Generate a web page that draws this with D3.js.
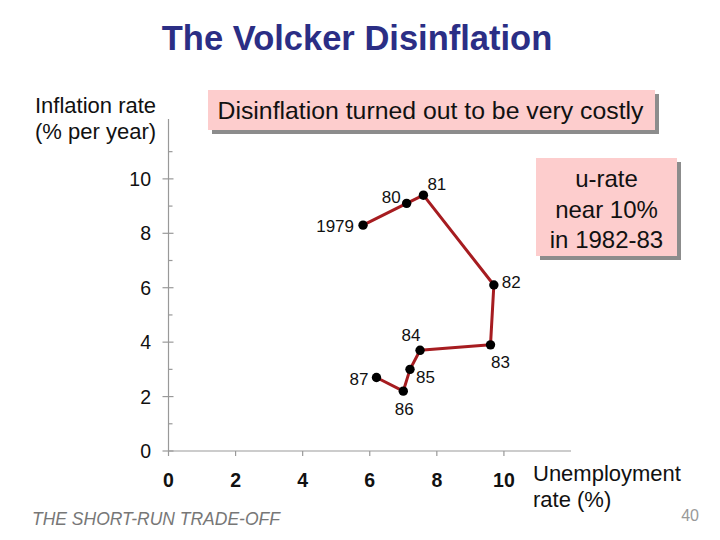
<!DOCTYPE html>
<html>
<head>
<meta charset="utf-8">
<script src="https://cdn.jsdelivr.net/npm/d3@7"></script>
<style>
  html, body { margin: 0; padding: 0; background: #fff; }
  svg { display: block; font-family: "Liberation Sans", Arial, sans-serif; }
</style>
</head>
<body>
<svg id="chart" width="720" height="540"></svg>
<script>
// ---- data ----
const years = ["1979", "80", "81", "82", "83", "84", "85", "86", "87"];
const unemployment = [5.8, 7.1, 7.6, 9.7, 9.6, 7.5, 7.2, 7.0, 6.2];
const inflation = [8.3, 9.1, 9.4, 6.1, 3.9, 3.7, 3.0, 2.2, 2.7];
const xTickValues = [0, 2, 4, 6, 8, 10];
const yTickValues = [0, 2, 4, 6, 8, 10];
const yMinorTicks = [1, 3, 5, 7, 9, 11];
const titleText = "The Volcker Disinflation";
const yAxisTitle = ["Inflation rate", "(% per year)"];
const xAxisTitle = ["Unemployment", "rate (%)"];
const note1 = "Disinflation turned out to be very costly";
const note2 = ["u-rate", "near 10%", "in 1982-83"];
const footer = "THE SHORT-RUN TRADE-OFF";
const pageNum = "40";

// label placement (layout only)
const labelPos = {
  "1979": {dx: -9, dy: 7, anchor: "end"},
  "80": {dx: -6, dy: 0, anchor: "end"},
  "81": {dx: 4, dy: -5, anchor: "start"},
  "82": {dx: 8, dy: 3, anchor: "start"},
  "83": {dx: 10, dy: 23, anchor: "middle"},
  "84": {dx: -9, dy: -9, anchor: "middle"},
  "85": {dx: 6, dy: 14, anchor: "start"},
  "86": {dx: 1, dy: 24, anchor: "middle"},
  "87": {dx: -8, dy: 7, anchor: "end"}
};

const svg = d3.select("#chart");
const x = d3.scaleLinear().domain([0, 12]).range([168.5, 571]);
const y = d3.scaleLinear().domain([0, 12.2]).range([451, 119]);

const axisColor = "#999";

// Title
svg.append("text")
  .attr("x", 357).attr("y", 50)
  .attr("text-anchor", "middle")
  .attr("font-size", 34.5).attr("font-weight", "bold")
  .attr("fill", "#2b2e85")
  .text(titleText);

// y axis title
svg.append("text")
  .attr("font-size", 22).attr("fill", "#111")
  .selectAll("tspan").data(yAxisTitle).join("tspan")
  .attr("x", 35).attr("y", (d, i) => 113 + i * 26)
  .text(d => d);

// Axes lines
svg.append("line")
  .attr("x1", x(0)).attr("x2", x(0))
  .attr("y1", y(0)).attr("y2", y(12.2))
  .attr("stroke", axisColor).attr("stroke-width", 1.2);
svg.append("line")
  .attr("x1", x(0)).attr("x2", x(12))
  .attr("y1", y(0)).attr("y2", y(0))
  .attr("stroke", axisColor).attr("stroke-width", 1.2);

// y ticks and labels
const yAxisG = svg.append("g");
yAxisG.selectAll("line.major").data(yTickValues).join("line")
  .attr("class", "major")
  .attr("x1", x(0) - 6).attr("x2", x(0) + 5)
  .attr("y1", d => y(d)).attr("y2", d => y(d))
  .attr("stroke", axisColor).attr("stroke-width", 1.2);
yAxisG.selectAll("line.minor").data(yMinorTicks).join("line")
  .attr("class", "minor")
  .attr("x1", x(0)).attr("x2", x(0) + 4)
  .attr("y1", d => y(d)).attr("y2", d => y(d))
  .attr("stroke", axisColor).attr("stroke-width", 1.2);
yAxisG.selectAll("text").data(yTickValues).join("text")
  .attr("x", 151).attr("y", d => y(d) + 7)
  .attr("text-anchor", "end")
  .attr("font-size", 19.5).attr("fill", "#111")
  .text(d => d);

// x ticks and labels
const xAxisG = svg.append("g");
xAxisG.selectAll("line").data(xTickValues).join("line")
  .attr("x1", d => x(d)).attr("x2", d => x(d))
  .attr("y1", y(0)).attr("y2", y(0) + 5)
  .attr("stroke", axisColor).attr("stroke-width", 1.2);
xAxisG.selectAll("text").data(xTickValues).join("text")
  .attr("x", d => x(d)).attr("y", 487)
  .attr("text-anchor", "middle")
  .attr("font-size", 19.5).attr("font-weight", "bold").attr("fill", "#111")
  .text(d => d);

// x axis title
svg.append("text")
  .attr("font-size", 22).attr("fill", "#111")
  .selectAll("tspan").data(xAxisTitle).join("tspan")
  .attr("x", 533).attr("y", (d, i) => 481 + i * 26)
  .text(d => d);

// Path
const pts = years.map((yr, i) => ({yr, u: unemployment[i], inf: inflation[i]}));
const line = d3.line().x(d => x(d.u)).y(d => y(d.inf));
svg.append("path")
  .datum(pts)
  .attr("d", line)
  .attr("fill", "none")
  .attr("stroke", "#a61c20")
  .attr("stroke-width", 3)
  .attr("stroke-linejoin", "round");

svg.selectAll("circle.pt").data(pts).join("circle")
  .attr("class", "pt")
  .attr("cx", d => x(d.u)).attr("cy", d => y(d.inf))
  .attr("r", 4.7).attr("fill", "#000");

svg.selectAll("text.lbl").data(pts).join("text")
  .attr("class", "lbl")
  .attr("x", d => x(d.u) + labelPos[d.yr].dx)
  .attr("y", d => y(d.inf) + labelPos[d.yr].dy)
  .attr("text-anchor", d => labelPos[d.yr].anchor)
  .attr("font-size", 17).attr("fill", "#111")
  .text(d => d.yr);

// Note boxes
function box(x0, y0, w, h) {
  svg.append("rect").attr("x", x0 + 4).attr("y", y0 + 4).attr("width", w).attr("height", h)
    .attr("fill", "#8c8c8c");
  svg.append("rect").attr("x", x0).attr("y", y0).attr("width", w).attr("height", h)
    .attr("fill", "#fdcdcd");
}
box(208, 90, 447, 40);
svg.append("text")
  .attr("x", 430.5).attr("y", 119)
  .attr("text-anchor", "middle")
  .attr("font-size", 24.8).attr("fill", "#111")
  .text(note1);

box(536, 158, 141, 98);
svg.append("text")
  .attr("font-size", 24).attr("fill", "#111")
  .attr("text-anchor", "middle")
  .selectAll("tspan").data(note2).join("tspan")
  .attr("x", 606.5).attr("y", (d, i) => 187 + i * 30.5)
  .text(d => d);

// Footer
svg.append("text")
  .attr("x", 32).attr("y", 525)
  .attr("font-size", 17.5).attr("font-style", "italic").attr("fill", "#777")
  .text(footer);
svg.append("text")
  .attr("x", 699).attr("y", 521)
  .attr("text-anchor", "end")
  .attr("font-size", 16).attr("fill", "#999")
  .text(pageNum);
</script>
</body>
</html>
